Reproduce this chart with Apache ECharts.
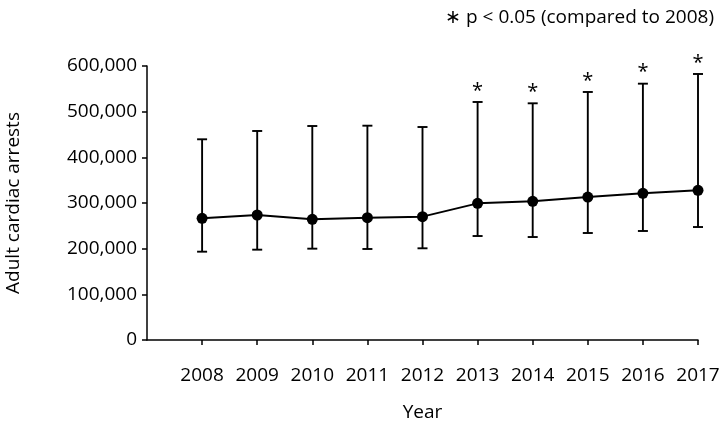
<!DOCTYPE html>
<html>
<head>
<meta charset="utf-8">
<script src="https://cdn.jsdelivr.net/npm/echarts@6/dist/echarts.min.js"></script>
<style>html,body{margin:0;padding:0;background:#fff}#c{width:722px;height:424px}</style>
</head>
<body>
<div id="c"></div>
<script>
var years = [2008, 2009, 2010, 2011, 2012, 2013, 2014, 2015, 2016, 2017];
var means = [266500, 273700, 264300, 267800, 270000, 299300, 303700, 313100, 321200, 327800];
var upper = [439500, 457700, 468600, 469300, 466400, 521200, 518300, 543100, 561300, 582500];
var lower = [193400, 197800, 200000, 199300, 200800, 227700, 225500, 234300, 238700, 247400];
var significant = [0, 0, 0, 0, 0, 1, 1, 1, 1, 1];
var yTicks = [0, 100000, 200000, 300000, 400000, 500000, 600000];
var noteText = '\u2217 p < 0.05 (compared to 2008)';

var FONT = 'Open Sans';
var FS = 19;
var chart = echarts.init(document.getElementById('c'));

var errData = years.map(function (y, i) { return [y, lower[i], upper[i], significant[i]]; });
var lineData = years.map(function (y, i) { return [y, means[i]]; });

chart.setOption({
  animation: false,
  backgroundColor: '#fff',
  title: {
    text: noteText,
    right: 3, top: 3,
    textStyle: { fontFamily: FONT, fontSize: FS, fontWeight: 'normal', color: '#000' }
  },
  grid: { left: 147, right: 24, top: 66, bottom: 84, outerBoundsMode: 'none', containLabel: false },
  xAxis: {
    type: 'value', min: 2007, max: 2017, interval: 1,
    name: 'Year', nameLocation: 'middle', nameGap: 63,
    nameTextStyle: { fontFamily: FONT, fontSize: FS, color: '#000' },
    axisLine: { lineStyle: { color: '#000', width: 1.5 } },
    axisTick: { show: true, length: 5, lineStyle: { color: '#000', width: 1.5 }, customValues: years },
    axisLabel: { customValues: years, margin: 26, fontFamily: FONT, fontSize: FS, color: '#000',
      formatter: function (v) { return String(v); } },
    splitLine: { show: false }
  },
  yAxis: {
    type: 'value', min: 0, max: 600000, interval: 100000,
    name: 'Adult cardiac arrests', nameLocation: 'middle', nameGap: 124, nameRotate: 90,
    nameTextStyle: { fontFamily: FONT, fontSize: FS, color: '#000' },
    axisLine: { show: true, lineStyle: { color: '#000', width: 1.5 } },
    axisTick: { show: true, length: 5, lineStyle: { color: '#000', width: 1.5 } },
    axisLabel: { margin: 10, fontFamily: FONT, fontSize: FS, color: '#000',
      formatter: function (v) { return v.toLocaleString('en-US'); } },
    splitLine: { show: false }
  },
  series: [
    {
      type: 'custom',
      data: errData,
      z: 2,
      renderItem: function (params, api) {
        var x = api.value(0);
        var lo = api.coord([x, api.value(1)]);
        var hi = api.coord([x, api.value(2)]);
        var hw = 5;
        var style = { stroke: '#000', lineWidth: 1.9 };
        var children = [
          { type: 'line', shape: { x1: lo[0], y1: lo[1], x2: hi[0], y2: hi[1] }, style: style },
          { type: 'line', shape: { x1: lo[0] - hw, y1: lo[1], x2: lo[0] + hw, y2: lo[1] }, style: style },
          { type: 'line', shape: { x1: hi[0] - hw, y1: hi[1], x2: hi[0] + hw, y2: hi[1] }, style: style }
        ];
        if (api.value(3)) {
          children.push({ type: 'text', x: hi[0], y: hi[1] - 1,
            style: { text: '*', fontFamily: FONT, fontSize: 20, fill: '#000', align: 'center', verticalAlign: 'bottom' } });
        }
        return { type: 'group', children: children };
      }
    },
    {
      type: 'line',
      data: lineData,
      z: 3,
      symbol: 'circle', symbolSize: 11,
      lineStyle: { color: '#000', width: 1.9 },
      itemStyle: { color: '#000' }
    }
  ]
});
</script>
</body>
</html>
